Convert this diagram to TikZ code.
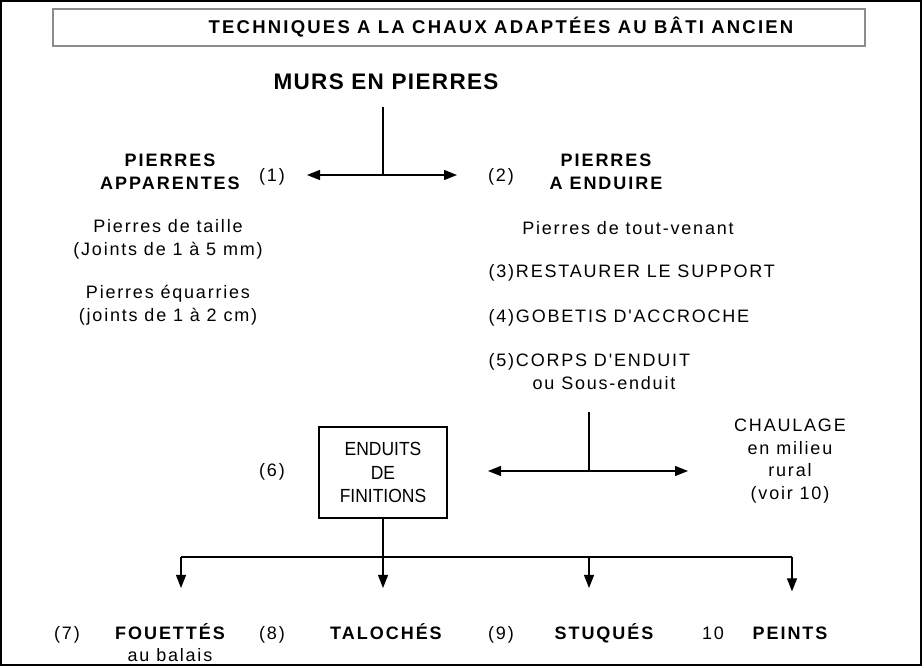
\documentclass[tikz,border=0pt]{standalone}
\usepackage{fontspec}
\setmainfont{Liberation Sans}
\newfontfamily\spacedfont[LetterSpace=10]{Liberation Sans}
\newfontfamily\heavyfont[LetterSpace=11]{Liberation Sans}
\newfontfamily\titlefont[LetterSpace=12]{Liberation Sans}
\newfontfamily\mursfont[LetterSpace=6]{Liberation Sans}
\newfontfamily\boxfont[FakeStretch=0.92]{Liberation Sans}
\usetikzlibrary{positioning,arrows.meta}
\tikzset{
  chart/.style={x=1pt,y=-1pt,line width=1.2pt,
    >={Stealth[inset=0pt,length=13pt,width=10pt]}},
  lbl/.style={inner sep=0pt,align=center,font=\spacedfont\fontsize{18}{22.8}\selectfont},
  head/.style={lbl,font=\heavyfont\bfseries\fontsize{18}{23}\selectfont},
  big/.style={inner sep=0pt,font=\mursfont\bfseries\fontsize{22.5}{26}\selectfont},
  low/.style={inner sep=0pt,anchor=base,font=\heavyfont\bfseries\fontsize{18}{22}\selectfont},
  lownum/.style={inner sep=0pt,anchor=base,font=\spacedfont\fontsize{18}{22}\selectfont},
  titlebox/.style={draw=black!45,line width=1.3pt,minimum width=812pt,minimum height=37pt,
    inner sep=0pt,font=\titlefont\bfseries\fontsize{18.5}{22}\selectfont},
  finbox/.style={draw,minimum width=128pt,minimum height=91pt,inner sep=0pt,align=center,
    font=\boxfont\fontsize{19}{23.5}\selectfont},
}
\begin{document}
\begin{tikzpicture}[chart]
  \useasboundingbox (0,0) rectangle (924,668);
  \draw[line width=1.6pt] (1,1) rectangle (921,665);
  \node[titlebox] (titre) at (459,27.5) {\hspace*{84pt}TECHNIQUES A LA CHAUX ADAPTÉES AU BÂTI ANCIEN};
  \node[big] (murs) at (386,82) {MURS EN PIERRES};
  % premier partage
  \coordinate (j1) at (383,175);
  \coordinate (g1) at (307,175);
  \coordinate (d1) at (457,175);
  \draw[shorten <=16pt] (murs.south -| j1) -- (j1);
  \draw[<->] (g1) -- (d1);
  \node[head] (appar) at (170,171.5) {PIERRES\\APPARENTES};
  \node[lbl] (n1) at (272,177) {(1)};
  \node[head] (aenduire) at (606,171.5) {PIERRES\\A ENDUIRE};
  \node[lbl] (n2) at (501,177) {(2)};
  \node[lbl] (taille) at (168,239) {Pierres de taille\\(Joints de 1 à 5 mm)};
  \node[lbl] (equarries) at (168,305) {Pierres équarries\\(joints de 1 à 2 cm)};
  \node[lbl] (venant) at (628,228) {Pierres de tout-venant};
  \node[lbl,anchor=base west] (support) at (488,277.5) {(3)RESTAURER LE SUPPORT};
  \node[lbl,anchor=base west] (gobetis) at (488,322.5) {(4)GOBETIS D'ACCROCHE};
  \node[lbl,anchor=base west] (corps) at (488,366.5) {(5)CORPS D'ENDUIT};
  \node[lbl] (sous) at (604,383) {ou Sous-enduit};
  % second partage
  \coordinate (j2) at (589,471);
  \coordinate (g2) at (488,471);
  \coordinate (d2) at (688,471);
  \draw[shorten <=22pt] (sous.south -| j2) -- (j2);
  \draw[<->] (g2) -- (d2);
  \node[lbl] (chaulage) at (790,461) {CHAULAGE\\en milieu\\rural\\(voir 10)};
  \node[lbl] (n6) at (272,472) {(6)};
  \node[finbox] (finitions) at (383,472.5) {ENDUITS\\DE\\FINITIONS};
  % finitions
  \coordinate (j3) at (383,557);
  \coordinate (b7) at (181,557);
  \coordinate (b9) at (589,557);
  \coordinate (b10) at (792,557);
  \draw (finitions.south) -- (j3);
  \draw (b7) -- (b10);
  \node[low] (fouettes) at (170,639.5) {FOUETTÉS};
  \node[lownum] (balais) at (170,661.5) {au balais};
  \node[low] (taloches) at (386,639.5) {TALOCHÉS};
  \node[low] (stuques) at (604,639.5) {STUQUÉS};
  \node[low] (peints) at (790,639.5) {PEINTS};
  \node[lownum] (n7) at (67,639.5) {(7)};
  \node[lownum] (n8) at (272,639.5) {(8)};
  \node[lownum] (n9) at (501,639.5) {(9)};
  \node[lownum] (n10) at (713,639.5) {10};
  \foreach \b/\t in {b7/fouettes,j3/taloches,b9/stuques,b10/peints}
    \draw[->,shorten >=35pt] (\b) -- (\t.north -| \b);
\end{tikzpicture}
\end{document}
